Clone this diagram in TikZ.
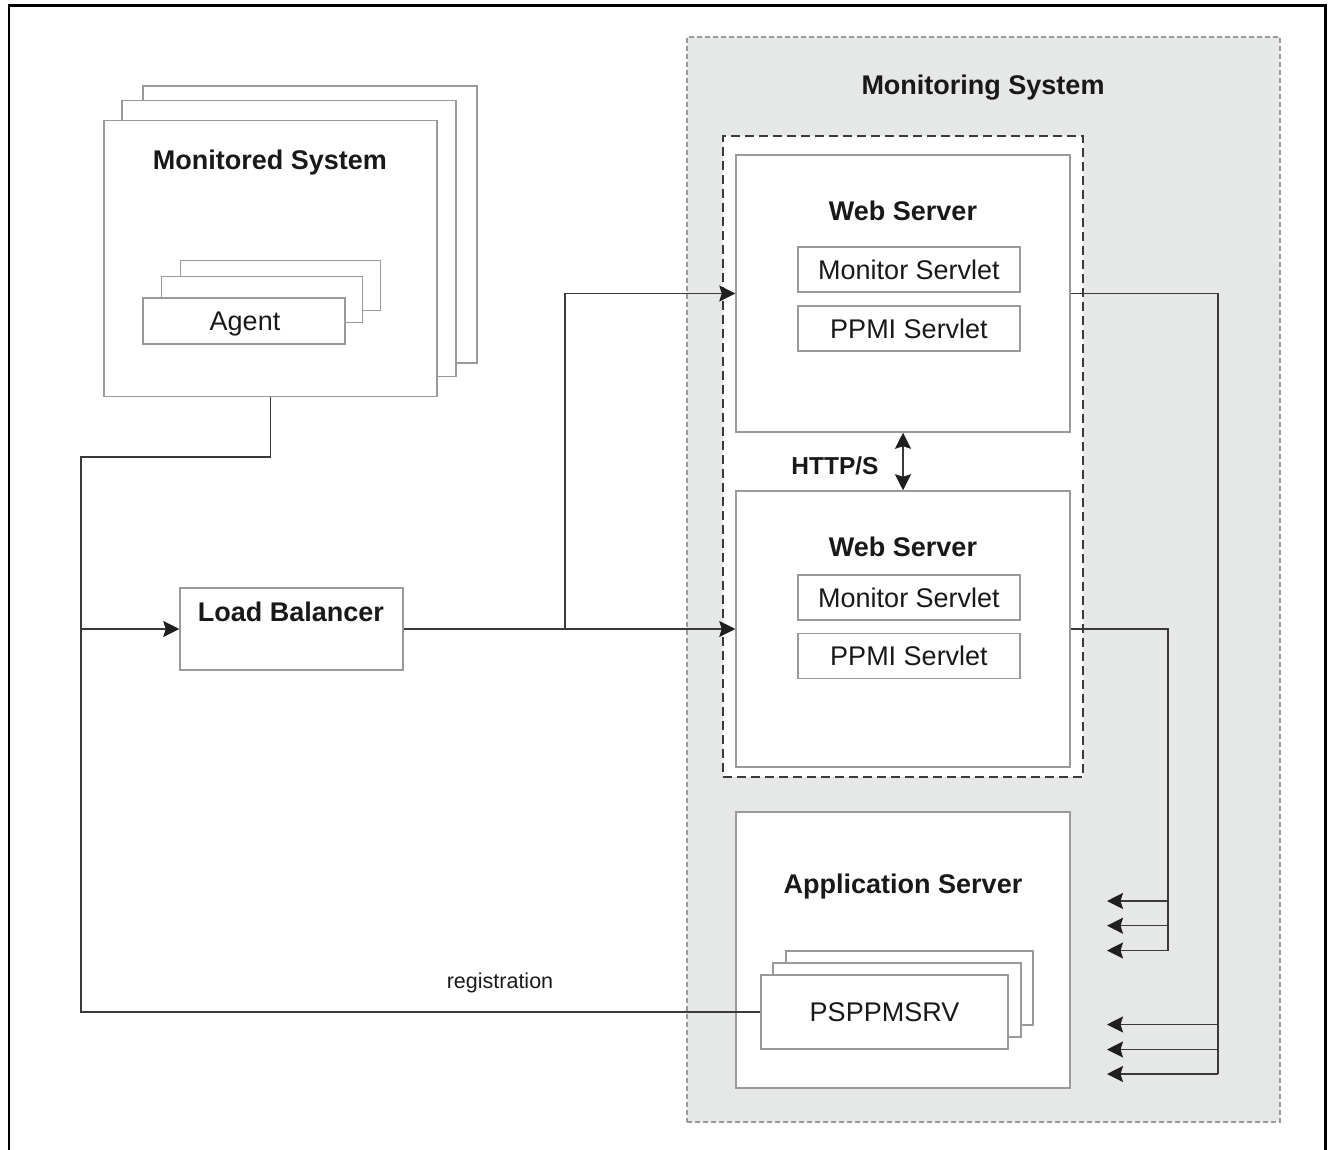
\documentclass[tikz,border=0pt]{standalone}
\usepackage{fontspec}
\setmainfont{Liberation Sans}
\usetikzlibrary{arrows.meta}
\definecolor{boxgray}{HTML}{9A9A9A}
\definecolor{linegray}{HTML}{3A3A3A}
\definecolor{areagray}{HTML}{E6E7E7}
\newcommand\tsize{\fontsize{27}{32}\selectfont}
\tikzset{
  box/.style={draw=boxgray, line width=1.5pt, fill=white, inner sep=0pt},
  conn/.style={draw=linegray, line width=1.5pt},
  tip/.tip={Stealth[length=16pt,width=16pt,inset=2.5pt,color=black!88]},
  arr/.style={conn, -tip},
  ttl/.style={font=\tsize\bfseries, text=black!90, inner sep=0pt, text height=19.3pt, text depth=0pt},
  txt/.style={font=\tsize, text=black!90, inner sep=0pt, text height=19.3pt, text depth=0pt},
}
\begin{document}
\begin{tikzpicture}[x=1pt,y=-1pt]
\useasboundingbox (0,0) rectangle (1328,1150);
% outer frame
\draw[line width=2.5pt] (9,1152) -- (9,5.5) -- (1325.5,5.5) -- (1325.5,1152);

% monitoring system area
\node[draw=boxgray, dash pattern=on 5pt off 3pt, line width=1.2pt, fill=areagray, minimum width=593, minimum height=1085, inner sep=0pt] (mon) at (983.5,579.5) {};
\node[ttl] (montitle) at (983,85) {Monitoring System};
\node[draw=linegray, dash pattern=on 9pt off 5pt, line width=1.3pt, fill=white, minimum width=360, minimum height=641, inner sep=0pt] (cluster) at (903,456.5) {};

% web servers
\node[box, minimum width=334, minimum height=277] (ws1) at (903,293.5) {};
\node[ttl] (ws1t) at (903,211) {Web Server};
\node[box, minimum width=222, minimum height=45] (ms1) at (909,269.5) {};
\node[txt] (ms1t) at (909,269.5) {Monitor Servlet};
\node[box, minimum width=222, minimum height=45] (pp1) at (909,328.5) {};
\node[txt] (pp1t) at (909,328.5) {PPMI Servlet};

\node[box, minimum width=334, minimum height=276] (ws2) at (903,629) {};
\node[ttl] (ws2t) at (903,547) {Web Server};
\node[box, minimum width=222, minimum height=45] (ms2) at (909,597.5) {};
\node[txt] (ms2t) at (909,597.5) {Monitor Servlet};
\node[box, minimum width=222, minimum height=45] (pp2) at (909,656) {};
\node[txt] (pp2t) at (909,656) {PPMI Servlet};

\draw[conn, tip-tip] (ws1.south) -- (ws2.north);
\node[font=\fontsize{24.5}{29}\selectfont\bfseries, text=black!90, inner sep=0pt, text height=17.5pt, text depth=0pt] (http) at (835,466) {HTTP/S};

% application server
\node[box, minimum width=334, minimum height=276] (app) at (903,950) {};
\node[ttl] (appt) at (903,884) {Application Server};
\node[box, minimum width=247, minimum height=74] (psp3) at (909.5,988) {};
\node[box, minimum width=248, minimum height=74] (psp2) at (897,1000) {};
\node[box, minimum width=247, minimum height=74] (psp) at (884.5,1012) {};
\node[txt] (pspt) at (884.5,1012) {PSPPMSRV};

% monitored system
\node[box, minimum width=334, minimum height=277] (msys3) at (310,224.5) {};
\node[box, minimum width=334, minimum height=276] (msys2) at (289,238.5) {};
\node[box, minimum width=333, minimum height=276] (msys) at (270.5,258.5) {};
\node[ttl] (msyst) at (270,160) {Monitored System};
\node[box, minimum width=200, minimum height=50] (ag3) at (280.5,285.5) {};
\node[box, minimum width=201, minimum height=46] (ag2) at (262,299.5) {};
\node[box, minimum width=202, minimum height=46] (ag) at (244,321) {};
\node[txt] (agt) at (245,321) {Agent};

% load balancer
\node[box, minimum width=223, minimum height=82] (lb) at (291.5,629) {};
\node[ttl] (lbt) at (291,612) {Load Balancer};

% connectors
\coordinate (j1) at (81,457);
\coordinate (b1) at (565,629);
\draw[conn] (msys.south) |- (j1) -- (j1 |- psp.west) -- (psp.west);
\node[font=\fontsize{21.5}{26}\selectfont, text=black!90, inner sep=0pt, text height=15.4pt, text depth=0pt] (reg) at (500,981) {registration};
\draw[arr] (j1 |- lb.west) -- (lb.west);
\draw[arr] (lb.east) -- (ws2.west);
\draw[arr] (b1) |- (ws1.west);

\coordinate (r1) at (1218,1074);
\coordinate (r2) at (1168,950.5);
\coordinate (t1) at (1107,1024.5);
\coordinate (t2) at (1107,1049.5);
\coordinate (t3) at (1107,1074);
\coordinate (t4) at (1107,901);
\coordinate (t5) at (1107,925.7);
\coordinate (t6) at (1107,950.5);
\draw[conn] (ws1.east) -| (r1);
\draw[conn] (ws2.east) -| (r2);
\draw[arr] (r1 |- t1) -- (t1);
\draw[arr] (r1 |- t2) -- (t2);
\draw[arr] (r1) -- (t3);
\draw[arr] (r2 |- t4) -- (t4);
\draw[arr] (r2 |- t5) -- (t5);
\draw[arr] (r2) -- (t6);
\end{tikzpicture}
\end{document}
